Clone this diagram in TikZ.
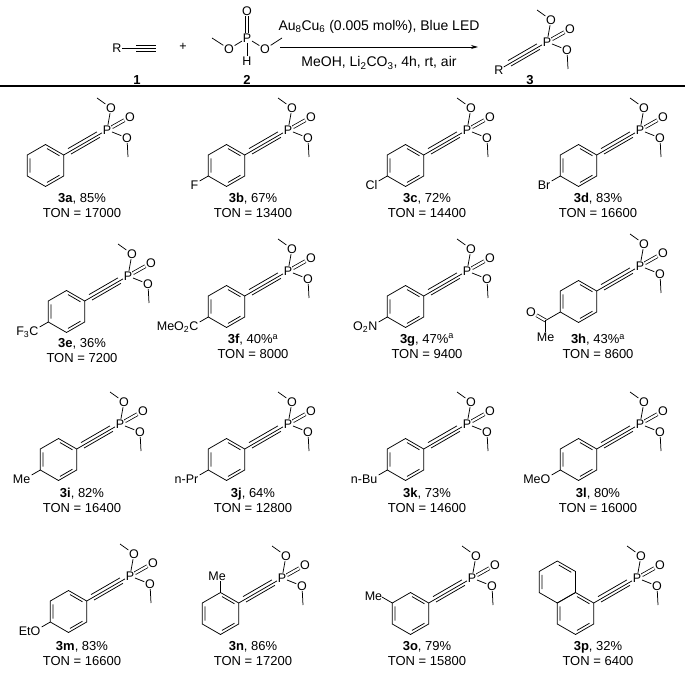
\documentclass[tikz,border=0pt]{standalone}
\usepackage{fontspec}
\setmainfont{Liberation Sans}
\usetikzlibrary{calc,arrows.meta}
\tikzset{
 atom/.style={inner sep=0.6pt,font=\fontsize{12.5}{14}\selectfont},
 bond/.style={line width=0.75pt},
 lbl/.style={inner sep=0pt,font=\fontsize{13}{15}\selectfont},
 dbl/.style={bond,double,double distance=2.2pt}
}
\newcommand\phos[1]{%
 \node[atom] (#1P) at (0,0) {P};
 \node[atom] (#1Oa) at (4,22) {O};
 \node[atom] (#1Ob) at (23,13) {O};
 \node[atom] (#1Oc) at (20,-8) {O};
 \coordinate (#1Ma) at (-10,32);
 \coordinate (#1Mc) at (21,-27);
 \draw[bond] (#1Ma) -- (#1Oa) -- (#1P) -- (#1Oc) -- (#1Mc);
 \draw[dbl] (#1P) -- (#1Ob);
 \coordinate (#1V) at (-43.3,-25);
 \draw[bond] (#1V) -- (#1P);
 \draw[bond] (-39,-18.6) -- (-10.1,-1.9) (-35.9,-24) -- (-7,-7.3);
}
\newcommand\hexa{%
 \draw[bond] (30:21)--(90:21)--(150:21)--(210:21)--(270:21)--(330:21)--cycle;}
\newcommand\mol[4]{%
 \begin{scope}[shift={(#2,678-#3)}]
 \phos{#1}
 \begin{scope}[shift={(-61.5,-35.5)}]
  \hexa
  \draw[bond] (35:17)--(85:17) (155:17)--(205:17) (275:17)--(325:17);
  \coordinate (#1C) at (0,0);
  #4
 \end{scope}
 \end{scope}}
\newcommand\para[2]{%
 \coordinate (#1e) at (210:31);
 \node[atom,anchor=base east] (#1s) at ($(#1e)+(-0.5,-8.5)$) {#2};
 \draw[bond] (210:21) -- (#1e);}
\newcommand\lab[5]{%
 \node[lbl] (#1a) at (#2,678-#3) {#4};
 \node[lbl] (#1b) at (#2,678-#3-14) {TON = #5};}
\begin{document}
\begin{tikzpicture}[x=1pt,y=1pt]
\useasboundingbox (0,0) rectangle (685,678);
% header
\node[atom] (R1) at (117,630) {R};
\coordinate (t1) at (156,630);
\draw[bond] (R1) -- (t1);
\draw[bond] (136,633) -- (156,633) (136,627) -- (156,627);
\node[atom] (plus) at (183,631) {+};
\node[atom] (P2) at (247,640) {P};
\node[atom] (O2t) at (247,667) {O};
\node[atom] (O2l) at (229,629) {O};
\node[atom] (O2r) at (265,629) {O};
\node[atom] (H2) at (247,617) {H};
\coordinate (m2l) at (212,640);
\coordinate (m2r) at (282,640);
\draw[dbl] (P2) -- (O2t);
\draw[bond] (m2l) -- (O2l) -- (P2) -- (O2r) -- (m2r);
\draw[bond] (P2) -- (H2);
\node[lbl,font=\fontsize{13}{15}\selectfont\bfseries] (n1) at (137,598) {1};
\node[lbl,font=\fontsize{13}{15}\selectfont\bfseries] (n2) at (247,598) {2};
\coordinate (a1) at (280,631);
\coordinate (a2) at (478,631);
\draw[bond,-{Stealth[length=7pt,width=4pt]}] (a1) -- (a2);
\node[lbl,font=\fontsize{14}{16}\selectfont] (cond1) at (379,651) {Au\textsubscript{8}Cu\textsubscript{6} (0.005 mol\%), Blue LED};
\node[lbl,font=\fontsize{14}{16}\selectfont] (cond2) at (379,615) {MeOH, Li\textsubscript{2}CO\textsubscript{3}, 4h, rt, air};
\begin{scope}[shift={(547,678-42)}]
 \phos{p3}
 \node[atom] (p3R) at (-48,-28) {R};
\end{scope}
\node[lbl,font=\fontsize{13}{15}\selectfont\bfseries] (n3) at (530,598) {3};
\coordinate (hl) at (0,592);
\coordinate (hr) at (685,592);
\draw[line width=2.6pt] (hl) -- (hr);
% row 1
\mol{a}{107}{130}{}
\mol{b}{288}{130}{\para{b}{F}}
\mol{c}{467}{130}{\para{c}{Cl}}
\mol{d}{640}{130}{\para{d}{Br}}
\lab{la}{82}{199}{\textbf{3a}, 85\%}{17000}
\lab{lb}{253}{199}{\textbf{3b}, 67\%}{13400}
\lab{lc}{427}{199}{\textbf{3c}, 72\%}{14400}
\lab{ld}{598}{199}{\textbf{3d}, 83\%}{16600}
% row 2
\mol{e}{128}{276}{\para{e}{F\textsubscript{3}C}}
\mol{f}{288}{271}{\para{f}{MeO\textsubscript{2}C}}
\mol{g}{467}{271}{\para{g}{O\textsubscript{2}N}}
\mol{h}{640}{266}{%
 \coordinate (hk) at (210:38);
 \draw[bond] (210:21) -- (hk);
 \node[atom] (hO) at ($(hk)+(150:17)$) {O};
 \node[atom,anchor=north] (hMe) at ($(hk)+(0,-12)$) {Me};
 \draw[dbl] (hk) -- (hO);
 \draw[bond] (hk) -- (hMe);}
\lab{le}{82}{344}{\textbf{3e}, 36\%}{7200}
\lab{lf}{253}{340}{\textbf{3f}, 40\%\textsuperscript{a}}{8000}
\lab{lg}{427}{340}{\textbf{3g}, 47\%\textsuperscript{a}}{9400}
\lab{lh}{598}{340}{\textbf{3h}, 43\%\textsuperscript{a}}{8600}
% row 3
\mol{i}{120}{424}{\para{i}{Me}}
\mol{j}{288}{424}{\para{j}{n-Pr}}
\mol{k}{467}{424}{\para{k}{n-Bu}}
\mol{l}{640}{424}{\para{l}{MeO}}
\lab{li}{82}{494}{\textbf{3i}, 82\%}{16400}
\lab{lj}{253}{494}{\textbf{3j}, 64\%}{12800}
\lab{lk}{427}{494}{\textbf{3k}, 73\%}{14600}
\lab{ll}{598}{494}{\textbf{3l}, 80\%}{16000}
% row 4
\mol{m}{130}{576}{\para{m}{EtO}}
\mol{n}{282}{578}{%
 \coordinate (ne) at (90:33);
 \draw[bond] (90:21) -- (ne);
 \node[atom,anchor=south east] (nMe) at ($(ne)+(6,-1)$) {Me};}
\mol{o}{472}{578}{%
 \coordinate (oe) at (150:33);
 \node[atom,anchor=east] (oMe) at ($(oe)+(1,1)$) {Me};
 \draw[bond] (150:21) -- (oe);}
\mol{p}{637}{578}{%
 \begin{scope}[shift={(120:36.37)}]
  \hexa
  \draw[bond] (35:17)--(85:17) (155:17)--(205:17);
 \end{scope}}
\lab{lm}{82}{647}{\textbf{3m}, 83\%}{16600}
\lab{ln}{253}{647}{\textbf{3n}, 86\%}{17200}
\lab{lo}{427}{647}{\textbf{3o}, 79\%}{15800}
\lab{lp}{598}{647}{\textbf{3p}, 32\%}{6400}
\end{tikzpicture}
\end{document}
